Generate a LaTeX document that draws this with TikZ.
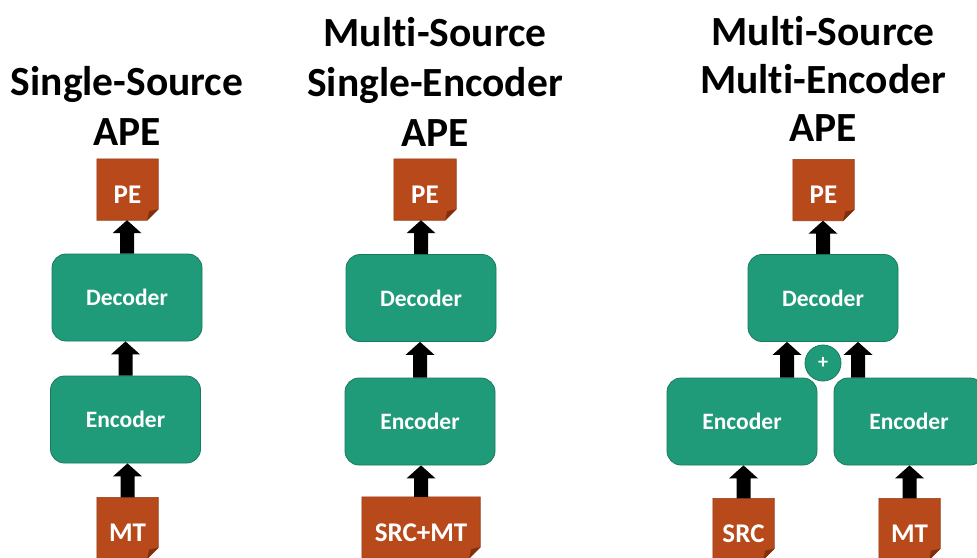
\documentclass[tikz,border=0pt]{standalone}
\usepackage{fontspec}
\setmainfont{Carlito}[Ligatures=NoCommon]
\usetikzlibrary{calc,backgrounds}
\definecolor{boxgreen}{RGB}{31,155,121}
\definecolor{boxedge}{RGB}{24,122,95}
\definecolor{docfill}{RGB}{183,73,26}
\definecolor{docedge}{RGB}{145,58,22}
\definecolor{docfold}{RGB}{128,46,14}
\tikzset{
 title/.style={font=\fontsize{41.5}{49}\bfseries\selectfont, anchor=base, inner sep=0pt},
 coder/.style={draw=boxedge, line width=0.8pt, fill=boxgreen, rounded corners=14pt,
   minimum width=150pt, minimum height=87pt, text=white, inner sep=0pt,
   font=\fontsize{23.5}{28}\bfseries\selectfont},
 docnode/.style={minimum height=61pt, inner sep=0pt, text=white, text height=27.4pt, text depth=0pt,
   font=\fontsize{27}{32}\bfseries\selectfont},
 plusnode/.style={circle, draw=boxedge, line width=0.8pt, fill=boxgreen, minimum size=36pt, inner sep=0pt,
   text=white, font=\fontsize{20}{24}\bfseries\selectfont},
}
\newcommand\docshape[1]{%
 \filldraw[fill=docfill, draw=docedge, line width=0.6pt] (#1.north west) -- (#1.north east)
   -- ($(#1.south east)+(0,-11)$) -- ($(#1.south east)+(-11,0)$) -- (#1.south west) -- cycle;
 \fill[docfold] ($(#1.south east)+(0,-11)$) -- ($(#1.south east)+(-11,0)$) -- ($(#1.south east)+(-9,-9)$) -- cycle;
}
\newcommand\blkarrow[2]{%
 \fill[black] let \p1=#1, \p2=#2 in (\x1-7pt,\y1) -- (\x1-7pt,\y2-13pt) -- (\x1-14.5pt,\y2-13pt)
   -- (\x1,\y2) -- (\x1+14.5pt,\y2-13pt) -- (\x1+7pt,\y2-13pt) -- (\x1+7pt,\y1) -- cycle;
}
\begin{document}
\begin{tikzpicture}[x=1pt,y=-1pt]
\useasboundingbox (0,0) rectangle (977,557);
\clip (0,0) rectangle (977,557);
% titles
\node[title] (t1a) at (127,95) {Single-Source};
\node[title] (t1b) at (127,145) {APE};
\node[title] (t2a) at (435,46) {Multi-Source};
\node[title] (t2b) at (435,96) {Single-Encoder};
\node[title] (t2c) at (435,146) {APE};
\node[title] (t3a) at (823,45) {Multi-Source};
\node[title] (t3b) at (823,93) {Multi-Encoder};
\node[title] (t3c) at (823,141) {APE};
% panel 1
\node[docnode, minimum width=61pt] (pe1) at (127.5,189.5) {PE};
\node[coder] (dec1) at (127,297.5) {Decoder};
\node[coder] (enc1) at (125.5,419.5) {Encoder};
\node[docnode, minimum width=61pt] (mt1) at (127.5,528) {MT};
% panel 2
\node[docnode, minimum width=62pt] (pe2) at (425,189.5) {PE};
\node[coder] (dec2) at (421,298) {Decoder};
\node[coder] (enc2) at (420,421.5) {Encoder};
\node[docnode, minimum width=118pt] (sm2) at (421,527.5) {SRC+MT};
% panel 3
\node[docnode, minimum width=61pt] (pe3) at (823.5,190) {PE};
\node[coder] (dec3) at (823,298) {Decoder};
\node[coder] (enc3a) at (742,421.5) {Encoder};
\node[coder] (enc3b) at (909,421.5) {Encoder};
\node[plusnode] (plus) at (823,363) {+};
\node[docnode, minimum width=61pt] (src3) at (743.5,529) {SRC};
\node[docnode, minimum width=61pt] (mt3) at (909.5,529) {MT};
\begin{scope}[on background layer]
 \fill[white] (0,0) rectangle (977,557);
 \docshape{pe1}\docshape{mt1}
 \docshape{pe2}\docshape{sm2}
 \docshape{pe3}\docshape{src3}\docshape{mt3}
\end{scope}
% arrows
\blkarrow{(mt1.north)}{(enc1.south)}
\blkarrow{(enc1.north)}{(dec1.south)}
\blkarrow{(dec1.north)}{(pe1.south)}
\blkarrow{(sm2.north)}{(enc2.south)}
\blkarrow{(enc2.north)}{(dec2.south)}
\blkarrow{(dec2.north)}{(pe2.south)}
\blkarrow{(src3.north)}{(enc3a.south)}
\blkarrow{(mt3.north)}{(enc3b.south)}
\blkarrow{([xshift=45pt]enc3a.north)}{(dec3.south)}
\blkarrow{([xshift=-51pt]enc3b.north)}{(dec3.south)}
\blkarrow{(dec3.north)}{(pe3.south)}
\end{tikzpicture}
\end{document}
